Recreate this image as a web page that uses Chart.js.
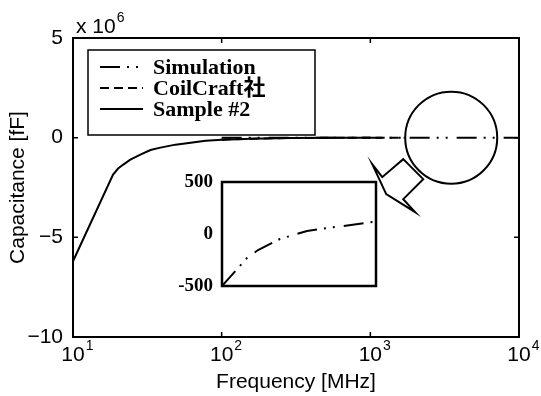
<!DOCTYPE html>
<html>
<head>
<meta charset="utf-8">
<script src="https://cdn.jsdelivr.net/npm/chart.js@4/dist/chart.umd.min.js"></script>
<style>
  body { margin:0; background:#fff; }
  #wrap { position:relative; width:541px; height:396px; }
  #wrap canvas { position:absolute; left:0; top:0; }
</style>
</head>
<body>
<div id="wrap">
  <canvas id="mainChart" width="541" height="396"></canvas>
  <canvas id="insetChart" width="541" height="396"></canvas>
</div>
<script>
// main plot: capacitance vs frequency
const sampleFreq = [10, 18.6, 20.1, 21.8, 24.3, 28.4, 33.2, 38.7, 48.9, 61.8, 78, 100, 159, 290, 537, 1000];
const sampleCap  = [-6.2e6, -1.85e6, -1.55e6, -1.35e6, -1.1e6, -0.85e6, -0.62e6, -0.5e6, -0.35e6, -0.25e6, -0.16e6, -0.1e6, -0.05e6, -0.02e6, -0.005e6, 0];

const coilFreq = [100, 159, 290, 537, 1000, 1700];
const coilCap  = [-0.1e6, -0.05e6, -0.02e6, -0.005e6, 0, 0];

const simFreq = [100, 200, 500, 1000, 2000, 3000, 5000, 7000, 10000];
const simCap  = [-8000, -3000, -1500, -800, -500, -150, 30, 120, 150];

// inset (zoom of the circled region)
const insetFreq = [2000, 2810, 3170, 3880, 4760, 5670, 6900];
const insetSim  = [-500, -231, -154, -48, 29, 67, 115];

const xTickPowers = [1, 2, 3, 4];
const yTicks = [-10e6, -5e6, 0, 5e6];
const insetYTicks = [-500, 0, 500];

const SANS = "'Liberation Sans', Arial, sans-serif";
const SERIF = "'Liberation Serif', 'Noto Sans CJK JP', serif";
const DASHDOT = [20, 7, 2, 7, 2, 9];
const DASHED = [9, 5];

const pts = (xs, ys) => xs.map((x, i) => ({ x: x, y: ys[i] }));

// "10" with a raised exponent, like matlab prints it
function drawPow(ctx, text, exp, x, y, align) {
  ctx.font = '21px ' + SANS;
  const w = ctx.measureText(text).width;
  let x0 = align === 'center' ? x - w / 2 : x;
  ctx.fillText(text, x0, y);
  ctx.font = '14px ' + SANS;
  ctx.fillText(exp, x0 + w + 1, y - 11);
}

const mainDecor = {
  id: 'mainDecor',
  afterDraw(chart) {
    const ctx = chart.ctx;
    const a = chart.chartArea;
    const xs = chart.scales.x, ys = chart.scales.y;
    ctx.save();
    ctx.strokeStyle = '#000';

    // axes box
    ctx.lineWidth = 2;
    ctx.strokeRect(a.left, a.top, a.right - a.left, a.bottom - a.top);

    // inward ticks
    ctx.lineWidth = 1.5;
    ctx.beginPath();
    xTickPowers.forEach(p => {
      const px = xs.getPixelForValue(Math.pow(10, p));
      ctx.moveTo(px, a.bottom); ctx.lineTo(px, a.bottom - 5);
      ctx.moveTo(px, a.top); ctx.lineTo(px, a.top + 5);
    });
    yTicks.forEach(v => {
      const py = ys.getPixelForValue(v);
      ctx.moveTo(a.left, py); ctx.lineTo(a.left + 5, py);
      ctx.moveTo(a.right, py); ctx.lineTo(a.right - 5, py);
    });
    ctx.stroke();

    // x tick labels 10^n and the y exponent
    ctx.fillStyle = '#000';
    ctx.textBaseline = 'alphabetic';
    xTickPowers.forEach(p => {
      drawPow(ctx, '10', String(p), xs.getPixelForValue(Math.pow(10, p)), a.bottom + 24, 'center');
    });
    drawPow(ctx, 'x 10', '6', a.left + 3, a.top - 5, 'left');

    // legend
    const lx = a.left + 15, ly = a.top + 12, lw = 227, lh = 85;
    ctx.fillStyle = '#fff';
    ctx.fillRect(lx, ly, lw, lh);
    ctx.lineWidth = 1.5;
    ctx.strokeRect(lx, ly, lw, lh);
    const order = [2, 1, 0];
    order.forEach((di, row) => {
      const ds = chart.data.datasets[di];
      const yy = ly + 17 + row * 21;
      ctx.beginPath();
      ctx.setLineDash(ds.borderDash || []);
      ctx.lineWidth = 2;
      ctx.moveTo(lx + 12, yy); ctx.lineTo(lx + 55, yy);
      ctx.stroke();
      ctx.setLineDash([]);
      ctx.fillStyle = '#000';
      ctx.font = 'bold 22px ' + SERIF;
      ctx.textBaseline = 'middle';
      ctx.fillText(ds.label, lx + 65, yy + 1);
    });

    // circle around zoomed region and arrow toward inset
    const cx = xs.getPixelForValue(3500), cy = ys.getPixelForValue(0);
    ctx.lineWidth = 2;
    ctx.beginPath();
    ctx.arc(cx, cy, 46, 0, Math.PI * 2);
    ctx.stroke();
    const arrow = [[-79, 26.5], [-69, 39.5], [-48, 21.5], [-28, 41.5], [-48, 61.5], [-36, 74.5], [-65, 56.5]];
    ctx.beginPath();
    arrow.forEach((p, i) => {
      if (i === 0) ctx.moveTo(cx + p[0], cy + p[1]);
      else ctx.lineTo(cx + p[0], cy + p[1]);
    });
    ctx.closePath();
    ctx.stroke();
    ctx.restore();
  }
};

new Chart(document.getElementById('mainChart'), {
  type: 'line',
  data: {
    datasets: [
      { label: 'Sample #2', data: pts(sampleFreq, sampleCap), borderColor: '#000', borderWidth: 2, pointRadius: 0, fill: false },
      { label: 'CoilCraft社', data: pts(coilFreq, coilCap), borderColor: '#000', borderWidth: 2, borderDash: DASHED, pointRadius: 0, fill: false },
      { label: 'Simulation', data: pts(simFreq, simCap), borderColor: '#000', borderWidth: 2, borderDash: DASHDOT, pointRadius: 0, fill: false }
    ]
  },
  options: {
    responsive: false,
    animation: false,
    devicePixelRatio: 1,
    layout: { padding: { top: 38, right: 22, left: 0, bottom: 0 } },
    plugins: { legend: { display: false }, tooltip: { enabled: false } },
    scales: {
      x: {
        type: 'logarithmic',
        min: 10, max: 10000,
        grid: { display: false, drawTicks: false },
        border: { display: false },
        ticks: { display: false },
        title: { display: true, text: 'Frequency [MHz]', color: '#000', font: { family: SANS, size: 21 }, padding: { top: 0, bottom: 1 } },
        afterFit: s => { s.height = 59; }
      },
      y: {
        min: -10e6, max: 5e6,
        grid: { display: false, drawTicks: false },
        border: { display: false },
        afterBuildTicks: s => { s.ticks = yTicks.map(v => ({ value: v })); },
        ticks: {
          padding: 10, color: '#000',
          font: { family: SANS, size: 21 },
          callback: v => String(v / 1e6).replace('-', '\u2212')
        },
        title: { display: true, text: 'Capacitance [fF]', color: '#000', font: { family: SANS, size: 21 }, padding: { top: 6, bottom: 0 } },
        afterFit: s => { s.width = 73; }
      }
    }
  },
  plugins: [mainDecor]
});

const insetBox = {
  id: 'insetBox',
  afterDraw(chart) {
    const ctx = chart.ctx, a = chart.chartArea;
    ctx.save();
    ctx.strokeStyle = '#000';
    ctx.lineWidth = 2.5;
    ctx.strokeRect(a.left, a.top, a.right - a.left, a.bottom - a.top);
    ctx.restore();
  }
};

new Chart(document.getElementById('insetChart'), {
  type: 'line',
  data: {
    datasets: [
      { label: 'Simulation', data: pts(insetFreq, insetSim), borderColor: '#000', borderWidth: 2, borderDash: DASHDOT, pointRadius: 0, fill: false }
    ]
  },
  options: {
    responsive: false,
    animation: false,
    devicePixelRatio: 1,
    layout: { padding: { top: 182, right: 165, left: 0, bottom: 110 } },
    plugins: { legend: { display: false }, tooltip: { enabled: false } },
    scales: {
      x: { type: 'linear', min: 2000, max: 7000, display: false },
      y: {
        min: -500, max: 500,
        grid: { display: false, drawTicks: false },
        border: { display: false },
        afterBuildTicks: s => { s.ticks = insetYTicks.map(v => ({ value: v })); },
        ticks: { padding: 9, color: '#000', font: { family: SERIF, size: 19, weight: 'bold' } },
        afterFit: s => { s.width = 222; }
      }
    }
  },
  plugins: [insetBox]
});
</script>
</body>
</html>
